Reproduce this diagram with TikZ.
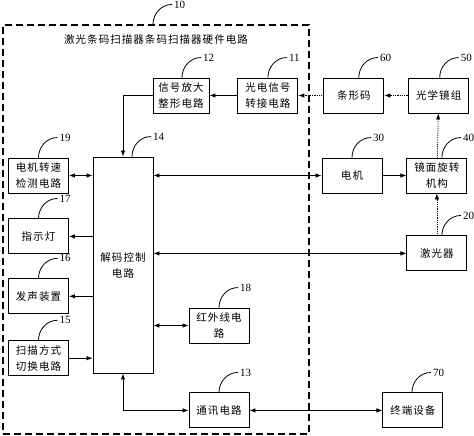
\documentclass[tikz,border=0pt]{standalone}
\usepackage{fontspec}
\setmainfont{Liberation Serif}
\newfontfamily\cjk[LetterSpace=10]{Noto Sans CJK SC}
\usetikzlibrary{positioning,arrows.meta}

\tikzset{
  blk/.style={draw, line width=0.9pt, minimum width=60pt, minimum height=35pt,
    inner sep=1pt, align=center, font=\cjk\fontsize{10.5}{16}\selectfont},
  hwbox/.style={draw, line width=1.1pt, dash pattern=on 7pt off 4pt,
    minimum width=306pt, minimum height=409pt},
  num/.style={anchor=west, inner sep=2pt, font=\fontsize{11}{13}\selectfont},
  lead/.style={line width=0.8pt},
  arr/.style={line width=0.8pt, -{Latex[length=6pt,width=4.5pt]}},
  darr/.style={line width=0.8pt, {Latex[length=6pt,width=4.5pt]}-{Latex[length=6pt,width=4.5pt]}},
  optarr/.style={arr, densely dotted},
}

\begin{document}
\begin{tikzpicture}[x=1pt,y=-1pt]
\useasboundingbox (0,0) rectangle (474,436);

% Nodes
  \node[hwbox]                            (Dianlu) at (156,229.5) {};
  \node[font=\cjk\fontsize{10.5}{13}\selectfont] (Biaoti) at (156,40) {激光条码扫描器条码扫描器硬件电路};

  \node[blk, minimum width=56pt]          (Zhengxing) at (181,95.5) {信号放大\\整形电路};
  \node[blk, right=28pt of Zhengxing]     (Zhuanjie) {光电信号\\转接电路};
  \node[blk, right=25pt of Zhuanjie]      (Tiaoxing) {条形码};
  \node[blk, right=24pt of Tiaoxing]      (Jingzu) {光学镜组};

  \node[blk]                              (Cesu) at (38.5,175.5) {电机转速\\检测电路};
  \node[blk, below=25pt of Cesu]          (Zhishi) {指示灯};
  \node[blk, below=24pt of Zhishi]        (Fasheng) {发声装置};
  \node[blk, below=26pt of Fasheng]       (Qiehuan) {扫描方式\\切换电路};

  \node[blk, minimum height=216pt]        (Jiema) at (123,265) {解码控制\\电路};

  \node[blk]                              (Dianji) at (352,175.5) {电机};
  \node[blk, right=24pt of Dianji]        (Jingmian) {镜面旋转\\机构};
  \node[blk, below=42pt of Jingmian]      (Jiguang) {激光器};

  \node[blk]                              (Hongwai) at (219,325.5) {红外线电\\路};
  \node[blk, below=49pt of Hongwai]       (Tongxun) {通讯电路};
  \node[blk, right=133pt of Tongxun]      (Zhongduan) {终端设备};

% Reference numbers
  \foreach \b/\n/\dx in {Dianlu/10/-3, Zhuanjie/11/0, Zhengxing/12/1, Tongxun/13/0,
      Jiema/14/9, Qiehuan/15/0, Fasheng/16/0, Zhishi/17/0, Hongwai/18/0, Cesu/19/0,
      Jiguang/20/5, Dianji/30/0, Jingmian/40/5, Jingzu/50/1, Tiaoxing/60/5, Zhongduan/70/-1}{
    \node[num] (n\n) at ([shift={(19+\dx,-20)}]\b.north) {\n};
    \draw[lead] ([xshift=\dx pt]\b.north) to[out=90,in=180] (n\n.west);
  }

% Edges
  \draw[optarr] (Jingzu)    -- (Tiaoxing);
  \draw[optarr] (Tiaoxing)  -- (Zhuanjie);
  \draw[arr]    (Zhuanjie)  -- (Zhengxing);
  \draw[arr]    (Zhengxing.west) -| (Jiema.north);

  \draw[darr]   (Cesu.east) -- (Cesu.east -| Jiema.west);
  \draw[arr]    (Zhishi.east -| Jiema.west)  -- (Zhishi.east);
  \draw[arr]    (Fasheng.east -| Jiema.west) -- (Fasheng.east);
  \draw[arr]    (Qiehuan.east) -- (Qiehuan.east -| Jiema.west);

  \draw[darr]   (Jiema.east |- Dianji.west)  -- (Dianji.west);
  \draw[arr]    (Dianji)    -- (Jingmian);
  \draw[darr]   (Jiema.east |- Jiguang.west) -- (Jiguang.west);
  \draw[optarr] (Jiguang)   -- (Jingmian);
  \draw[optarr] (Jingmian)  -- (Jingzu);

  \draw[darr]   (Jiema.east |- Hongwai.west) -- (Hongwai.west);
  \draw[darr]   (Jiema.south) |- (Tongxun.west);
  \draw[darr]   (Tongxun)   -- (Zhongduan);

\end{tikzpicture}
\end{document}
